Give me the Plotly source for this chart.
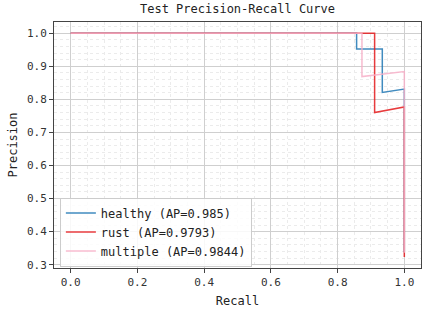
import plotly.graph_objects as go

# Data
healthy_recall = [0.0, 0.857, 0.857, 0.934, 0.934, 1.0, 1.0]
healthy_precision = [1.0, 1.0, 0.952, 0.952, 0.821, 0.831, 0.338]

rust_recall = [0.0, 0.911, 0.911, 1.0, 1.0]
rust_precision = [1.0, 1.0, 0.760, 0.777, 0.323]

multiple_recall = [0.0, 0.873, 0.873, 1.0, 1.0]
multiple_precision = [1.0, 1.0, 0.869, 0.884, 0.336]

series_names = ["healthy (AP=0.985)", "rust (AP=0.9793)", "multiple (AP=0.9844)"]
series_colors = ["#1f77b4", "#e41a1c", "#f7b0c8"]

FONT = "DejaVu Sans Mono"

fig = go.Figure()
for xs, ys, name, col in zip(
    [healthy_recall, rust_recall, multiple_recall],
    [healthy_precision, rust_precision, multiple_precision],
    series_names, series_colors):
    fig.add_trace(go.Scatter(x=xs, y=ys, mode="lines", name=name,
                             line=dict(color=col, width=1.5), opacity=0.85))

axis_common = dict(
    showline=True, linecolor="#444", linewidth=1, mirror=True,
    ticks="outside", ticklen=4, tickcolor="#444", tickwidth=1,
    showgrid=True, gridcolor="#cfcfcf", gridwidth=1,
    zeroline=False, automargin=False,
    tickfont=dict(family=FONT, size=11, color="#333"),
)

fig.update_xaxes(**axis_common, range=[-0.05, 1.05], dtick=0.2, tickformat=".1f",
                 minor=dict(dtick=0.05, showgrid=True, gridcolor="#ebebeb", griddash="dot"),
                 title=dict(text="Recall", font=dict(family=FONT, size=12, color="#222"), standoff=8))
fig.update_yaxes(**axis_common, range=[0.29, 1.034], dtick=0.1, tickformat=".1f",
                 minor=dict(dtick=0.02, showgrid=True, gridcolor="#ebebeb", griddash="dot"),
                 title=dict(text="Precision", font=dict(family=FONT, size=12, color="#222"), standoff=6))

fig.update_layout(
    width=425, height=311,
    margin=dict(l=54, r=4, t=22, b=43),
    paper_bgcolor="white", plot_bgcolor="white",
    font=dict(family=FONT, size=12, color="#222"),
    title=dict(text="Test Precision-Recall Curve", x=0.5, xref="paper",
               y=1 - 9 / 311, yanchor="middle", automargin=False,
               font=dict(family=FONT, size=12, color="#222")),
    legend=dict(x=0.016, y=0.006, xanchor="left", yanchor="bottom",
                bgcolor="rgba(255,255,255,0.85)", bordercolor="#cccccc", borderwidth=1,
                font=dict(family=FONT, size=12, color="#222"), tracegroupgap=0,
                itemwidth=30),
    showlegend=True,
)

fig.write_html("out.html", config={"displayModeBar": False},
               post_script="document.body.style.margin='0';")
